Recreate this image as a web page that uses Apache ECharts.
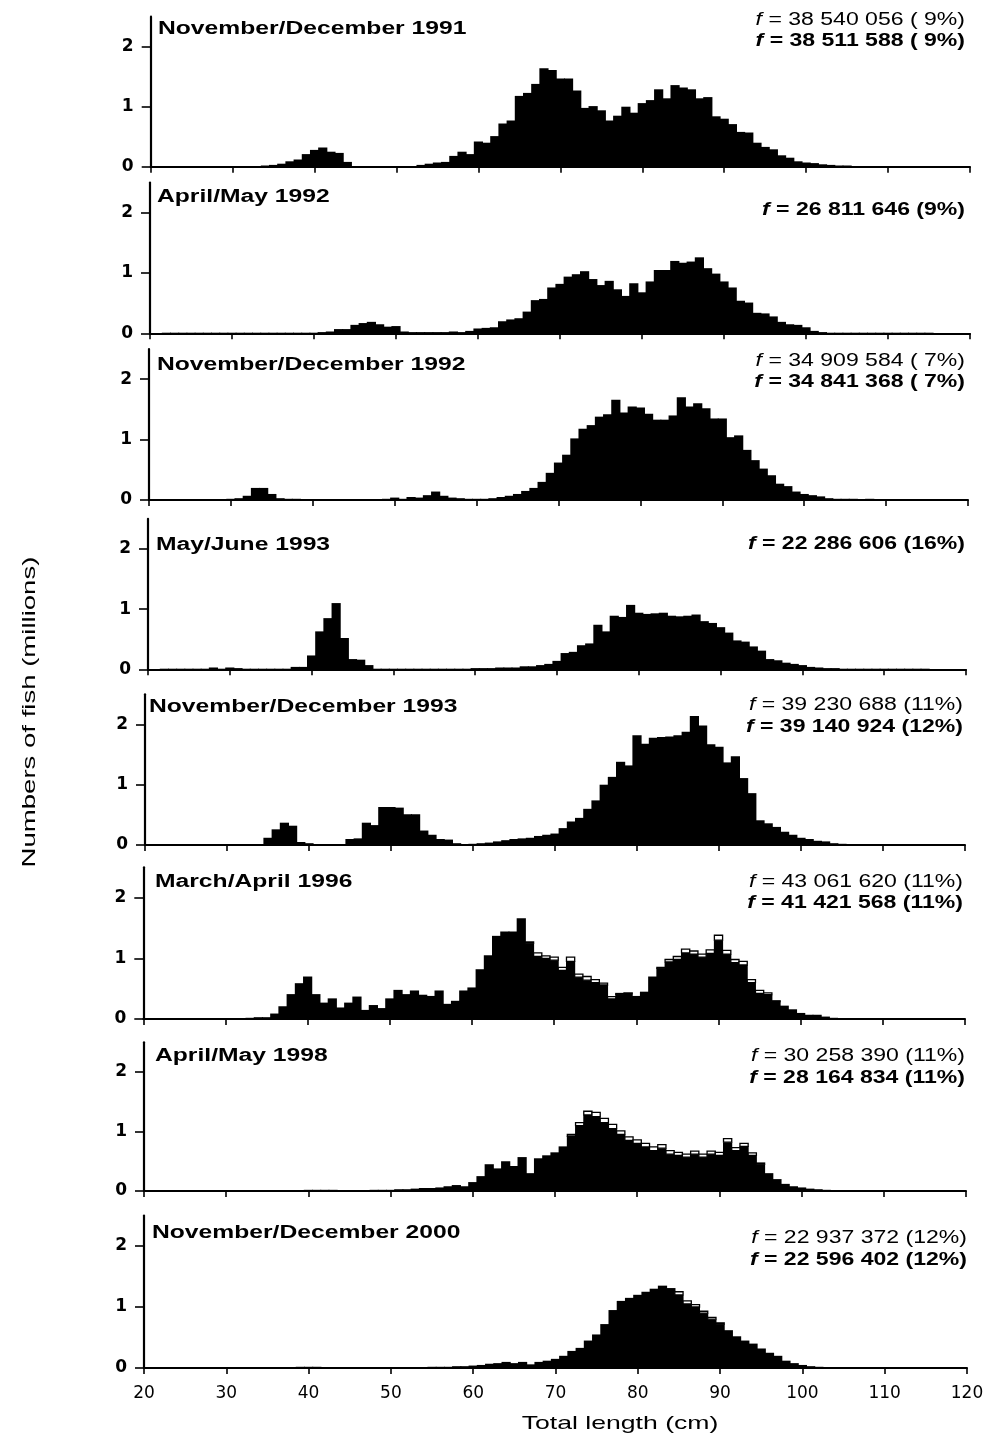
<!DOCTYPE html>
<html>
<head>
<meta charset="utf-8">
<script src="https://cdn.jsdelivr.net/npm/echarts@6/dist/echarts.min.js"></script>
<style>
  html, body { margin: 0; padding: 0; background: #fff; }
  #chart { width: 983px; height: 1440px; }
</style>
</head>
<body>
<div id="chart"></div>
<script>
// Length-frequency distributions, 1-cm length classes; values in millions of fish.
// Each array starts at the class centred on FIRST_BIN cm.
const FIRST_BIN = 21;

const titles = [
  'November/December 1991', 'April/May 1992', 'November/December 1992', 'May/June 1993',
  'November/December 1993', 'March/April 1996', 'April/May 1998', 'November/December 2000'
];

const fLabels = [
  ['f = 38 540 056 ( 9%)', 'f = 38 511 588 ( 9%)'],
  ['f = 26 811 646 (9%)'],
  ['f = 34 909 584 ( 7%)', 'f = 34 841 368 ( 7%)'],
  ['f = 22 286 606 (16%)'],
  ['f = 39 230 688 (11%)', 'f = 39 140 924 (12%)'],
  ['f = 43 061 620 (11%)', 'f = 41 421 568 (11%)'],
  ['f = 30 258 390 (11%)', 'f = 28 164 834 (11%)'],
  ['f = 22 937 372 (12%)', 'f = 22 596 402 (12%)']
];

const yTicks = [0, 1, 2];

const nd1991 = [
  0, 0.01, 0.01, 0.01, 0.01, 0.01, 0.01, 0.01, 0.01, 0.01,
  0.01, 0.01, 0.01, 0.02, 0.03, 0.05, 0.09, 0.12, 0.21, 0.28,
  0.32, 0.25, 0.23, 0.08, 0.01, 0.01, 0.01, 0.01, 0.01, 0.01,
  0.01, 0.01, 0.03, 0.05, 0.07, 0.08, 0.18, 0.25, 0.21, 0.42,
  0.40, 0.51, 0.72, 0.77, 1.18, 1.23, 1.38, 1.64, 1.61, 1.47,
  1.47, 1.27, 0.98, 1.01, 0.94, 0.77, 0.85, 1.00, 0.90, 1.06,
  1.11, 1.29, 1.14, 1.36, 1.32, 1.29, 1.14, 1.16, 0.84, 0.80,
  0.71, 0.58, 0.57, 0.40, 0.33, 0.29, 0.19, 0.15, 0.09, 0.07,
  0.06, 0.04, 0.03, 0.02, 0.02, 0.01, 0.01, 0.01, 0.01, 0.01,
  0.01, 0.01, 0, 0, 0, 0, 0, 0
];

const am1992 = [
  0, 0.01, 0.01, 0.01, 0.01, 0.01, 0.01, 0.01, 0.01, 0.01,
  0.01, 0.01, 0.01, 0.01, 0.01, 0.01, 0.01, 0.01, 0.01, 0.01,
  0.02, 0.03, 0.07, 0.07, 0.14, 0.17, 0.19, 0.15, 0.11, 0.12,
  0.03, 0.02, 0.02, 0.02, 0.02, 0.02, 0.03, 0.02, 0.04, 0.08,
  0.09, 0.10, 0.20, 0.23, 0.25, 0.36, 0.55, 0.57, 0.76, 0.82,
  0.94, 0.98, 1.03, 0.90, 0.80, 0.87, 0.73, 0.62, 0.83, 0.68,
  0.86, 1.05, 1.05, 1.20, 1.17, 1.19, 1.26, 1.08, 0.99, 0.86,
  0.76, 0.54, 0.51, 0.34, 0.33, 0.28, 0.19, 0.15, 0.14, 0.10,
  0.04, 0.02, 0.01, 0.01, 0.01, 0.01, 0.01, 0.01, 0.01, 0.01,
  0.01, 0.01, 0.01, 0.01, 0.01, 0, 0, 0
];

const nd1992 = [
  0, 0.01, 0.01, 0.01, 0.01, 0.01, 0.01, 0.01, 0.01, 0.02,
  0.03, 0.07, 0.20, 0.20, 0.10, 0.03, 0.02, 0.02, 0.01, 0.01,
  0.01, 0.01, 0.01, 0.01, 0.01, 0.01, 0.01, 0.01, 0.02, 0.04,
  0.02, 0.05, 0.04, 0.08, 0.14, 0.07, 0.04, 0.03, 0.02, 0.02,
  0.02, 0.03, 0.05, 0.07, 0.10, 0.15, 0.20, 0.30, 0.45, 0.62,
  0.75, 1.02, 1.18, 1.24, 1.38, 1.42, 1.66, 1.45, 1.55, 1.53,
  1.43, 1.33, 1.33, 1.40, 1.70, 1.55, 1.60, 1.52, 1.35, 1.35,
  1.04, 1.07, 0.83, 0.66, 0.52, 0.41, 0.27, 0.23, 0.14, 0.10,
  0.08, 0.06, 0.03, 0.02, 0.02, 0.02, 0.01, 0.02, 0.01, 0.01,
  0.01, 0.01, 0.01, 0.01, 0.01, 0.01, 0, 0
];

const mj1993 = [
  0, 0.01, 0.01, 0.01, 0.01, 0.01, 0.01, 0.03, 0.01, 0.03,
  0.02, 0.01, 0.01, 0.01, 0.01, 0.01, 0.01, 0.04, 0.04, 0.23,
  0.63, 0.85, 1.10, 0.52, 0.17, 0.16, 0.07, 0.01, 0.01, 0.01,
  0.01, 0.01, 0.01, 0.01, 0.01, 0.01, 0.01, 0.01, 0.01, 0.02,
  0.02, 0.02, 0.03, 0.03, 0.03, 0.05, 0.05, 0.07, 0.09, 0.14,
  0.27, 0.29, 0.40, 0.43, 0.74, 0.63, 0.89, 0.87, 1.07, 0.94,
  0.92, 0.93, 0.94, 0.89, 0.88, 0.89, 0.91, 0.80, 0.77, 0.70,
  0.61, 0.48, 0.46, 0.38, 0.31, 0.17, 0.15, 0.11, 0.09, 0.07,
  0.04, 0.03, 0.02, 0.02, 0.01, 0.01, 0.01, 0.01, 0.01, 0.01,
  0.01, 0.01, 0.01, 0.01, 0.01, 0, 0, 0
];

const nd1993 = [
  0, 0.01, 0.01, 0.01, 0.01, 0.01, 0.01, 0.01, 0.01, 0.01,
  0.01, 0.01, 0.01, 0.01, 0.12, 0.26, 0.37, 0.32, 0.05, 0.03,
  0.01, 0.01, 0.01, 0.01, 0.10, 0.11, 0.37, 0.33, 0.63, 0.63,
  0.62, 0.51, 0.51, 0.24, 0.17, 0.10, 0.09, 0.03, 0.01, 0.02,
  0.03, 0.04, 0.06, 0.08, 0.10, 0.11, 0.12, 0.15, 0.17, 0.19,
  0.28, 0.39, 0.45, 0.60, 0.74, 1.00, 1.13, 1.38, 1.32, 1.82,
  1.68, 1.78, 1.79, 1.80, 1.82, 1.88, 2.14, 1.98, 1.67, 1.63,
  1.37, 1.47, 1.11, 0.86, 0.41, 0.36, 0.30, 0.22, 0.17, 0.12,
  0.10, 0.07, 0.06, 0.03, 0.02, 0.01, 0.01, 0.01, 0.01, 0.01,
  0.01, 0.01, 0.01, 0.01, 0, 0, 0, 0
];

const ma1996 = [
  0, 0, 0, 0, 0, 0, 0, 0.01, 0.01, 0.01,
  0.01, 0.01, 0.02, 0.03, 0.03, 0.09, 0.21, 0.41, 0.59, 0.70,
  0.41, 0.27, 0.34, 0.19, 0.27, 0.37, 0.15, 0.23, 0.18, 0.34,
  0.48, 0.41, 0.47, 0.40, 0.38, 0.47, 0.25, 0.30, 0.47, 0.52,
  0.82, 1.05, 1.37, 1.44, 1.44, 1.66, 1.25, 1.03, 1.00, 0.97,
  0.80, 0.95, 0.69, 0.64, 0.60, 0.56, 0.33, 0.41, 0.42, 0.38,
  0.45, 0.70, 0.84, 0.94, 0.98, 1.09, 1.07, 1.02, 1.08, 1.30,
  1.07, 0.93, 0.89, 0.60, 0.42, 0.40, 0.29, 0.22, 0.16, 0.10,
  0.07, 0.07, 0.04, 0.02, 0.01, 0.01, 0.01, 0.01, 0.01, 0.01,
  0.01, 0.01, 0, 0, 0, 0, 0, 0
];
// Additional (open) part of each class, from 67 cm
const ma1996ExtraFrom = 67;
const ma1996Extra = [
  0.02, 0.06, 0.04, 0.05, 0.05, 0.07, 0.05, 0.06, 0.05, 0.03,
  0.04, 0.01, 0.01, 0, 0, 0, 0.01, 0.04, 0.05, 0.06,
  0.05, 0.05, 0.06, 0.08, 0.06, 0.05, 0.06, 0.05, 0.05, 0.03,
  0.01
];

const am1998 = [
  0, 0, 0, 0, 0, 0, 0, 0, 0, 0,
  0, 0, 0, 0, 0, 0.01, 0.01, 0.01, 0.01, 0.02,
  0.02, 0.02, 0.02, 0.01, 0.01, 0.01, 0.01, 0.02, 0.02, 0.02,
  0.03, 0.03, 0.04, 0.05, 0.05, 0.06, 0.08, 0.10, 0.08, 0.15,
  0.25, 0.45, 0.38, 0.50, 0.42, 0.57, 0.30, 0.55, 0.60, 0.65,
  0.75, 0.92, 1.10, 1.28, 1.25, 1.15, 1.05, 0.95, 0.85, 0.80,
  0.74, 0.68, 0.72, 0.62, 0.60, 0.57, 0.62, 0.57, 0.62, 0.60,
  0.82, 0.68, 0.75, 0.60, 0.45, 0.30, 0.20, 0.12, 0.08, 0.06,
  0.04, 0.03, 0.02, 0.01, 0.01, 0.01, 0.01, 0, 0, 0,
  0, 0, 0, 0, 0, 0, 0, 0
];
const am1998ExtraFrom = 72;
const am1998Extra = [
  0.03, 0.05, 0.06, 0.07, 0.07, 0.07, 0.06, 0.06, 0.06, 0.06,
  0.06, 0.06, 0.06, 0.05, 0.05, 0.05, 0.05, 0.05, 0.05, 0.06,
  0.05, 0.05, 0.04, 0.02
];

const nd2000 = [
  0, 0, 0, 0, 0, 0, 0, 0, 0, 0,
  0, 0, 0, 0, 0, 0.01, 0.01, 0.01, 0.02, 0.02,
  0.02, 0.01, 0.01, 0, 0, 0, 0, 0, 0.01, 0.01,
  0.01, 0.01, 0.01, 0.01, 0.02, 0.02, 0.02, 0.03, 0.03, 0.04,
  0.05, 0.07, 0.08, 0.10, 0.08, 0.10, 0.06, 0.10, 0.12, 0.15,
  0.20, 0.28, 0.33, 0.45, 0.55, 0.72, 0.95, 1.10, 1.15, 1.20,
  1.25, 1.30, 1.35, 1.28, 1.20, 1.05, 1.00, 0.90, 0.80, 0.72,
  0.62, 0.52, 0.45, 0.40, 0.32, 0.25, 0.20, 0.12, 0.08, 0.05,
  0.03, 0.02, 0.01, 0.01, 0, 0, 0, 0, 0, 0,
  0, 0, 0, 0, 0, 0, 0, 0
];
const nd2000ExtraFrom = 84;
const nd2000Extra = [0.02, 0.05, 0.05, 0.04, 0.03, 0.03, 0.02];

const filled = [nd1991, am1992, nd1992, mj1993, nd1993, ma1996, am1998, nd2000];
const open = [null, null, null, null, null,
  [ma1996ExtraFrom, ma1996Extra], [am1998ExtraFrom, am1998Extra], [nd2000ExtraFrom, nd2000Extra]];

// Panel geometry (pixels): x of 20 cm and 120 cm, y of the zero line, pixels per million
const panelLeft  = [150.7, 150, 149, 148, 145, 143.3, 144, 144];
const panelRight = [970, 970, 968, 966, 965, 965, 966, 967];
const panelZero  = [166.7, 333.3, 500, 669.3, 845, 1019, 1191, 1368];
const panelUnit  = [60, 60.3, 60.4, 60.2, 60.3, 60.7, 59.5, 61];
const Y_MAX = 2.5;

const titleX = [158, 157, 157, 156, 149, 155, 155, 152];
const titleY = [29, 197, 365, 545, 707, 882, 1056, 1233];
const fRight = [965, 965, 965, 965, 963, 963, 965, 967];
const fY = [[20, 41], [210], [361, 382], [544], [705, 727], [882, 903], [1056, 1078], [1238, 1260]];

const SANS = '"Liberation Sans", Arial, Helvetica, sans-serif';

// Rectangle for one length class; a small overlap keeps neighbouring classes seamless.
function barRenderer(fill, stroke, lineWidth, overlap) {
  return function (params, api) {
    const c = api.value(0), lo = api.value(1), hi = api.value(2);
    const a = api.coord([c - 0.5, hi]);
    const b = api.coord([c + 0.5, lo]);
    return {
      type: 'rect',
      shape: {
        x: a[0] - overlap, y: a[1],
        width: b[0] - a[0] + 2 * overlap, height: Math.max(b[1] - a[1], 0.8)
      },
      style: { fill: fill, stroke: stroke, lineWidth: lineWidth }
    };
  };
}

const grids = [], xAxes = [], yAxes = [], series = [], graphics = [];

filled.forEach(function (values, i) {
  const h = Y_MAX * panelUnit[i];
  grids.push({
    left: panelLeft[i], top: panelZero[i] - h,
    width: panelRight[i] - panelLeft[i], height: h,
    containLabel: false, outerBoundsMode: 'none'
  });
  const last = i === filled.length - 1;
  xAxes.push({
    type: 'value', gridIndex: i, min: 20, max: 120, interval: 10,
    axisLine: { show: true, onZero: false, lineStyle: { color: '#000', width: 2 } },
    axisTick: { show: true, inside: false, length: 6, lineStyle: { color: '#000', width: 1.6 } },
    axisLabel: {
      show: last, color: '#000', fontFamily: '"DejaVu Sans", sans-serif',
      fontSize: 17, margin: 17
    },
    splitLine: { show: false }
  });
  yAxes.push({
    type: 'value', gridIndex: i, min: 0, max: Y_MAX,
    axisLine: { show: true, onZero: false, lineStyle: { color: '#000', width: 2.2 } },
    axisTick: { show: true, length: 9, customValues: yTicks, lineStyle: { color: '#000', width: 1.6 } },
    axisLabel: {
      customValues: yTicks, color: '#000', fontFamily: '"DejaVu Sans", sans-serif',
      fontWeight: 'bold', fontSize: 17, margin: 17,
      formatter: function (v) { return Number.isInteger(v) ? String(v) : ''; }
    },
    splitLine: { show: false }
  });

  const solid = [];
  values.forEach(function (v, k) { if (v > 0) solid.push([FIRST_BIN + k, 0, v]); });
  series.push({
    type: 'custom', xAxisIndex: i, yAxisIndex: i, silent: true, animation: false,
    encode: { x: 0, y: [1, 2] },
    renderItem: barRenderer('#000', null, 0, 0.5),
    data: solid
  });

  if (open[i]) {
    const from = open[i][0], extra = open[i][1];
    const boxes = [];
    extra.forEach(function (e, k) {
      const c = from + k;
      const base = values[c - FIRST_BIN];
      if (e > 0) boxes.push([c, base, base + e]);
    });
    series.push({
      type: 'custom', xAxisIndex: i, yAxisIndex: i, silent: true, animation: false,
      encode: { x: 0, y: [1, 2] }, z: 3,
      renderItem: barRenderer('#fff', '#000', 1.3, 0),
      data: boxes
    });
  }

  graphics.push({
    type: 'text', x: titleX[i], y: titleY[i], scaleX: 1.37,
    style: {
      text: titles[i], fill: '#000', fontFamily: SANS, fontWeight: 'bold', fontSize: 18,
      align: 'left', verticalAlign: 'middle'
    }
  });

  fLabels[i].forEach(function (label, j) {
    const weight = (fLabels[i].length === 1 || j === 1) ? 'bold' : 'normal';
    graphics.push({
      type: 'text', x: fRight[i], y: fY[i][j], scaleX: 1.28,
      style: {
        text: '{i|f}{r|' + label.slice(1) + '}',
        align: 'right', verticalAlign: 'middle',
        rich: {
          i: { fontFamily: SANS, fontSize: 18, fontStyle: 'italic', fontWeight: weight, fill: '#000' },
          r: { fontFamily: SANS, fontSize: 18, fontWeight: weight, fill: '#000' }
        }
      }
    });
  });
});

graphics.push({
  type: 'text', x: 30, y: 712, rotation: Math.PI / 2, scaleX: 1.45,
  style: {
    text: 'Numbers of fish (millions)', fill: '#000', fontFamily: SANS, fontSize: 19,
    align: 'center', verticalAlign: 'middle'
  }
});
graphics.push({
  type: 'text', x: 620, y: 1424, scaleX: 1.4,
  style: {
    text: 'Total length (cm)', fill: '#000', fontFamily: SANS, fontSize: 19,
    align: 'center', verticalAlign: 'middle'
  }
});

const chart = echarts.init(document.getElementById('chart'), null, { renderer: 'canvas' });
chart.setOption({
  backgroundColor: '#fff',
  animation: false,
  grid: grids,
  xAxis: xAxes,
  yAxis: yAxes,
  series: series,
  graphic: graphics
});
</script>
</body>
</html>
